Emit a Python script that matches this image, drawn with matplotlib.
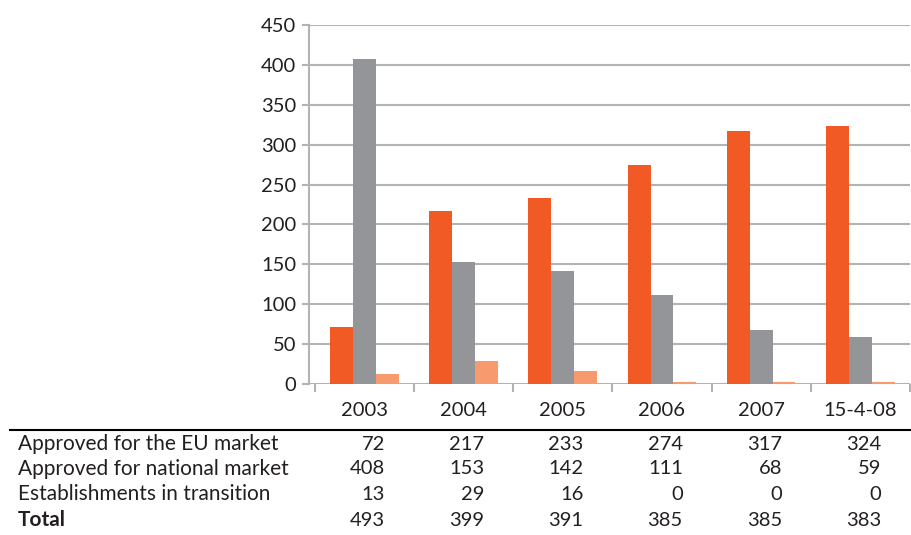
import matplotlib.pyplot as plt
import matplotlib.transforms as mtransforms
import numpy as np

plt.rcParams['font.family'] = ['Lato', 'DejaVu Sans']

categories = ['2003', '2004', '2005', '2006', '2007', '15-4-08']
series_names = ['Approved for the EU market',
                'Approved for national market',
                'Establishments in transition']
eu_market = [72, 217, 233, 274, 317, 324]
national_market = [408, 153, 142, 111, 68, 59]
in_transition = [13, 29, 16, 0, 0, 0]
totals = [493, 399, 391, 385, 385, 383]

colors = ['#F15A24', '#939598', '#F79B6E']
grid_col = '#B3B3B3'
text_col = '#231F20'

fig = plt.figure(figsize=(9.12, 5.35), dpi=100)
ax = fig.add_axes([309 / 912, 151 / 535, 601 / 912, 359 / 535])

x = np.arange(len(categories))
w = 0.23
for i, (vals, c) in enumerate(zip([eu_market, national_market, in_transition], colors)):
    ax.bar(x + (i - 1) * w, vals, width=w, color=c, linewidth=0, zorder=3)

# zero-height bars still show as a thin sliver sitting on the baseline
zero = np.array(in_transition) == 0
lifted = mtransforms.offset_copy(ax.transData, fig=fig, y=1.5, units='dots')
ax.hlines(np.array(in_transition)[zero], (x + w / 2)[zero], (x + 1.5 * w)[zero],
          colors=colors[2], linewidth=1.5, zorder=5, clip_on=False,
          transform=lifted)

ax.set_ylim(0, 450)
ax.set_yticks(range(0, 451, 50))
ax.set_xlim(-0.557, 5.48)
ax.set_xticks([])
ax.set_xticks(np.arange(len(categories) + 1) - 0.5, minor=True)
ax.tick_params(axis='x', which='minor', length=6, width=1.5, color=grid_col,
               labelbottom=False)
ax.tick_params(axis='y', length=5, width=1.5, color=grid_col, labelsize=14.5,
               labelcolor=text_col, pad=4)
ax.yaxis.grid(True, color=grid_col, linewidth=1.5)
ax.set_axisbelow(True)
for s in ['top', 'right', 'bottom']:
    ax.spines[s].set_visible(False)
ax.spines['left'].set_color(grid_col)
ax.spines['left'].set_linewidth(1.5)

# data table below the chart
trans = mtransforms.blended_transform_factory(ax.transData, fig.transFigure)
def fy(py):
    return 1 - py / 535

for xi, cat in zip(x, categories):
    fig.text(xi, fy(410), cat, transform=trans, ha='center', va='center',
             fontsize=14.5, color=text_col)

fig.add_artist(plt.Line2D([10 / 912, 910 / 912], [fy(430), fy(430)],
                          transform=fig.transFigure, color='black', linewidth=1.5))

rows = [eu_market, national_market, in_transition, totals]
labels = series_names + ['Total']
row_y = [444, 469, 494, 520]
for vals, lab, py in zip(rows, labels, row_y):
    bold = lab == 'Total'
    fig.text(18 / 912, fy(py), lab, ha='left', va='center', fontsize=15,
             color=text_col, fontweight='bold' if bold else 'normal')
    for xi, v in zip(x, vals):
        fig.text(xi + 0.21, fy(py), str(v), transform=trans, ha='right',
                 va='center', fontsize=14.5, color=text_col)

fig.savefig('out.png', dpi=100)
